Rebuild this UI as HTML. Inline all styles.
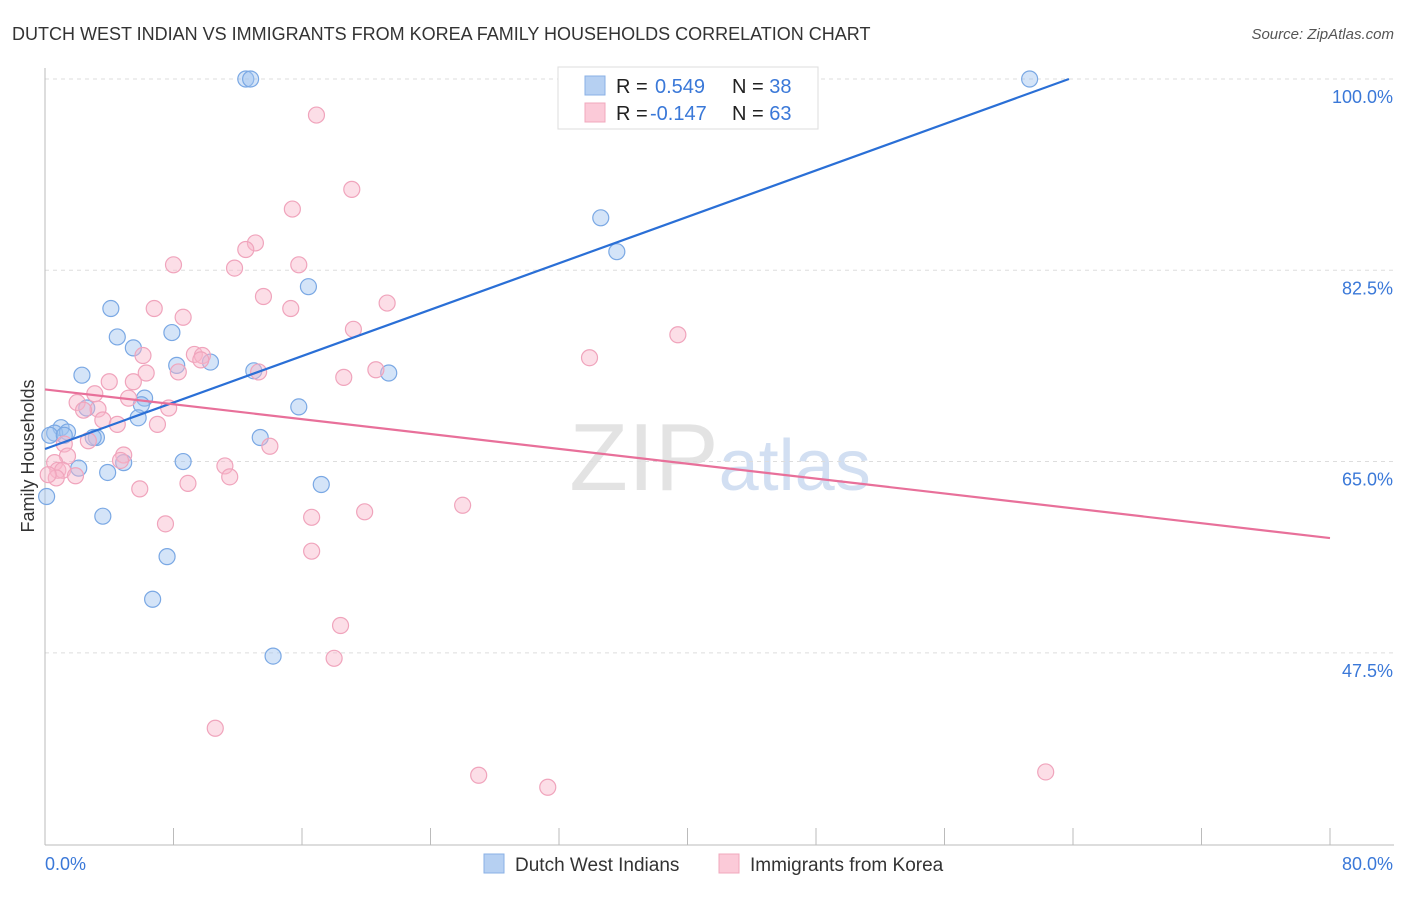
<!DOCTYPE html>
<html><head><meta charset="utf-8"><style>
body{margin:0;background:#fff;font-family:"Liberation Sans",sans-serif;}
svg text{font-family:"Liberation Sans",sans-serif;}
</style></head><body>
<svg id="chart" width="1406" height="892" xmlns="http://www.w3.org/2000/svg">
<text x="12" y="40" font-size="18" fill="#333">DUTCH WEST INDIAN VS IMMIGRANTS FROM KOREA FAMILY HOUSEHOLDS CORRELATION CHART</text>
<text x="1394" y="39" font-size="15" fill="#555" text-anchor="end" font-style="italic">Source: ZipAtlas.com</text>
<text x="720" y="490" font-size="96" text-anchor="middle" font-family="Liberation Serif" fill="#ddd" opacity="0.8">ZIP<tspan fill="#c8d8f0" font-family="Liberation Sans" font-size="72">atlas</tspan></text>
<g id="grid"></g><g id="axes"></g><g id="marks"></g>
<text transform="translate(34,456) rotate(-90)" font-size="18" fill="#333" text-anchor="middle">Family Households</text>
<g>
<rect x="558" y="67" width="260" height="62" fill="#fff" stroke="#ddd"/>
<rect x="585" y="76" width="20" height="19" fill="#b6d0f2" stroke="#8ab0e6"/>
<text x="616" y="93" font-size="20" fill="#222">R = <tspan fill="#3a78d8" x="655">0.549</tspan><tspan x="732">N = </tspan><tspan fill="#3a78d8">38</tspan></text>
<rect x="585" y="103" width="20" height="19" fill="#fbcad8" stroke="#f0a8bd"/>
<text x="616" y="120" font-size="20" fill="#222">R = <tspan fill="#3a78d8" x="650">-0.147</tspan><tspan x="732">N = </tspan><tspan fill="#3a78d8">63</tspan></text>
</g>
<g>
<rect x="484" y="854" width="20" height="19" fill="#b6d0f2" stroke="#8ab0e6"/>
<text x="515" y="871" font-size="19" fill="#333">Dutch West Indians</text>
<rect x="719" y="854" width="20" height="19" fill="#fbcad8" stroke="#f0a8bd"/>
<text x="750" y="871" font-size="19" fill="#333">Immigrants from Korea</text>
</g>
</svg>
<script>
const yTicks=[100,82.5,65,47.5];
const yTickLabels=["100.0%","82.5%","65.0%","47.5%"];
const xTicks=[0,8,16,24,32,40,48,56,64,72,80];
const blueX=[12.5,12.8,61.3,34.6,35.6,16.4,4.1,7.9,4.5,5.5,8.2,10.3,13.0,21.4,2.3,6.2,6.0,15.8,2.6,5.8,1.0,0.6,1.4,3.2,3.0,13.4,8.6,4.9,2.1,3.9,17.2,0.1,3.6,7.6,6.7,14.2,0.3,1.2];
const blueY=[100,100,100,87.3,84.2,81.0,79.0,76.8,76.4,75.4,73.8,74.1,73.3,73.1,72.9,70.8,70.2,70.0,69.9,69.0,68.1,67.6,67.7,67.2,67.2,67.2,65.0,64.9,64.4,64.0,62.9,61.8,60.0,56.3,52.4,47.2,67.4,67.4];
const pinkX=[16.9,19.1,15.4,13.1,12.5,8.0,15.8,11.8,13.6,6.8,15.3,21.3,8.6,19.2,39.4,33.9,9.3,9.8,6.1,9.7,6.3,8.3,13.3,18.6,20.6,4.0,5.5,3.1,5.2,2.0,3.3,7.7,2.4,3.6,7.0,4.5,2.7,1.2,14.0,4.9,1.4,4.7,0.6,11.2,0.8,1.1,11.5,1.9,8.9,5.9,26.0,19.9,16.6,7.5,16.6,18.4,18.0,10.6,27.0,31.3,62.3,0.7,0.2];
const pinkY=[96.7,89.9,88.1,85.0,84.4,83.0,83.0,82.7,80.1,79.0,79.0,79.5,78.2,77.1,76.6,74.5,74.8,74.7,74.7,74.3,73.1,73.2,73.2,72.7,73.4,72.3,72.3,71.2,70.8,70.4,69.8,69.9,69.7,68.8,68.4,68.4,66.9,66.6,66.4,65.6,65.5,65.1,64.9,64.6,64.2,64.2,63.6,63.7,63.0,62.5,61.0,60.4,59.9,59.3,56.8,50.0,47.0,40.6,36.3,35.2,36.6,63.5,63.8];
const blueTrend=[66.15,0.531];
const pinkTrend=[71.6,-0.17];
const X=v=>45+v/80*1285;
const Y=v=>79+(100-v)*10.93;
const NS="http://www.w3.org/2000/svg";
function mk(tag,attrs,parent){const e=document.createElementNS(NS,tag);for(const k in attrs)e.setAttribute(k,attrs[k]);document.getElementById(parent).appendChild(e);return e;}
yTicks.forEach((t,i)=>{
 const l=mk('line',{x1:45,x2:1394,y1:Y(t),y2:Y(t),stroke:'#ddd','stroke-dasharray':'4,4'},'grid');
 
 
 const tx=mk('text',{x:1393,y:Y(t)+24,'font-size':18,fill:'#3a78d8','text-anchor':'end'},'axes');
 tx.textContent=yTickLabels[i];
 
 
});
const ax=mk('line',{x1:45,x2:45,y1:68,y2:845,stroke:'#bbb'},'axes');


const bx=mk('line',{x1:45,x2:1394,y1:845,y2:845,stroke:'#bbb'},'axes');


xTicks.forEach(t=>{
 const l=mk('line',{x1:X(t),x2:X(t),y1:828,y2:845,stroke:'#bbb'},'axes');
 
 
});
const x0=mk('text',{x:45,y:870,'font-size':18,fill:'#3a78d8'},'axes');x0.textContent='0.0%';


const x1=mk('text',{x:1393,y:870,'font-size':18,fill:'#3a78d8','text-anchor':'end'},'axes');x1.textContent='80.0%';


blueX.forEach((v,i)=>{
 const c=mk('circle',{cx:X(v),cy:Y(blueY[i]),r:8,fill:'rgba(160,196,240,0.45)',stroke:'#7aa8e4','stroke-width':1.2},'marks');
 
 
});
pinkX.forEach((v,i)=>{
 const c=mk('circle',{cx:X(v),cy:Y(pinkY[i]),r:8,fill:'rgba(248,182,202,0.45)',stroke:'#f0a4bc','stroke-width':1.2},'marks');
 
 
});
const bEnd=(100-blueTrend[0])/blueTrend[1];
const bl=mk('line',{x1:X(0),y1:Y(blueTrend[0]),x2:X(bEnd),y2:Y(100),stroke:'#2a6fd6','stroke-width':2.2},'marks');


const pl=mk('line',{x1:X(0),y1:Y(pinkTrend[0]),x2:X(80),y2:Y(pinkTrend[0]+pinkTrend[1]*80),stroke:'#e8709a','stroke-width':2.2},'marks');


</script>
</body></html>
